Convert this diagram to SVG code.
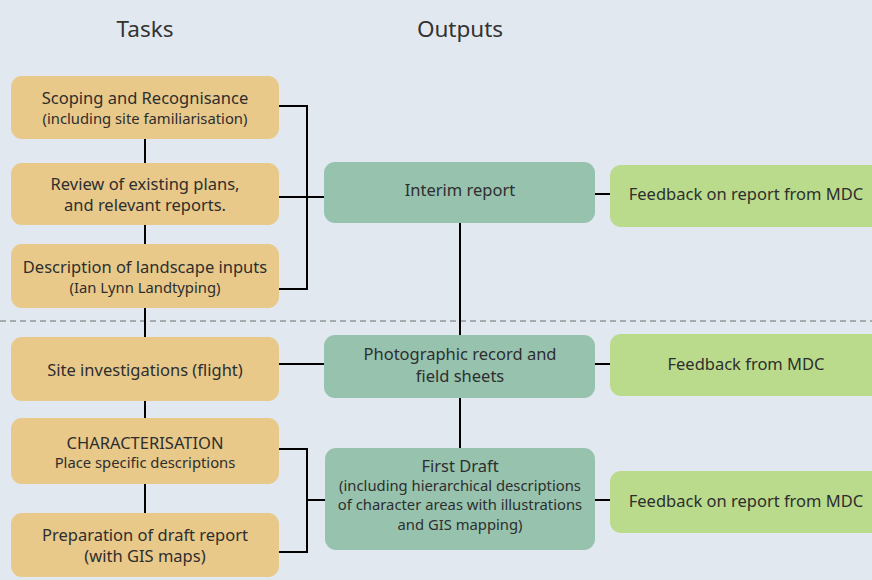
<svg xmlns="http://www.w3.org/2000/svg" width="872" height="580" viewBox="0 0 872 580">
<style>
text{font-family:"Noto Sans","Open Sans",sans-serif;fill:#2e2e2e;text-anchor:middle}
.m{font-size:16.5px}
.s{font-size:14.8px}
.d{font-size:14.8px}
.h{font-size:22.5px;fill:#333}
.task{fill:#e8c98a}
.out{fill:#97c3ae}
.fb{fill:#badb8c}
.c{stroke:#000;stroke-width:2;fill:none}
</style>
<rect width="872" height="580" fill="#e1e8ef"/>
<text class="h" x="145" y="37">Tasks</text>
<text class="h" x="460" y="37">Outputs</text>
<line x1="0" y1="321" x2="872" y2="321" stroke="#a8abae" stroke-width="2" stroke-dasharray="6,4"/>
<g id="connectors">
<path class="c" d="M145 139V163M145 225V244M145 308V337M145 401V418M145 484V513"/>
<path class="c" d="M279 106H307V289H279M279 197H325"/>
<path class="c" d="M460 223V335M460 398V448"/>
<path class="c" d="M279 364H325"/>
<path class="c" d="M279 449H307V552H279M307 500H325"/>
<path class="c" d="M595 194H610M595 364H610M595 500H610"/>
</g>
<g id="task1"><rect class="task" x="11" y="76" width="268" height="63" rx="11"/><text class="m" x="145" y="104">Scoping and Recognisance</text><text class="s" x="145" y="124">(including site familiarisation)</text></g>
<g id="task2"><rect class="task" x="11" y="163" width="268" height="62" rx="11"/><text class="m" x="145" y="190">Review of existing plans,</text><text class="m" x="145" y="211">and relevant reports.</text></g>
<g id="task3"><rect class="task" x="11" y="244" width="268" height="64" rx="11"/><text class="m" x="145" y="273">Description of landscape inputs</text><text class="s" x="145" y="293">(Ian Lynn Landtyping)</text></g>
<g id="task4"><rect class="task" x="11" y="337" width="268" height="64" rx="11"/><text class="m" x="145" y="376">Site investigations (flight)</text></g>
<g id="task5"><rect class="task" x="11" y="418" width="268" height="66" rx="11"/><text class="m" x="145" y="449">CHARACTERISATION</text><text class="s" x="145" y="468">Place specific descriptions</text></g>
<g id="task6"><rect class="task" x="11" y="513" width="268" height="64" rx="11"/><text class="m" x="145" y="541">Preparation of draft report</text><text class="m" x="145" y="562">(with GIS maps)</text></g>
<g id="out1"><rect class="out" x="324" y="162" width="271" height="61" rx="11"/><text class="m" x="460" y="196">Interim report</text></g>
<g id="out2"><rect class="out" x="324" y="335" width="271" height="63" rx="11"/><text class="m" x="460" y="360">Photographic record and</text><text class="m" x="460" y="382">field sheets</text></g>
<g id="out3"><rect class="out" x="325" y="448" width="270" height="102" rx="11"/><text class="m" x="460" y="472">First Draft</text><text class="d" x="460" y="491">(including hierarchical descriptions</text><text class="d" x="460" y="510">of character areas with illustrations</text><text class="d" x="460" y="530">and GIS mapping)</text></g>
<g id="fb1"><rect class="fb" x="610" y="165" width="280" height="62" rx="11"/><text class="m" x="746" y="200">Feedback on report from MDC</text></g>
<g id="fb2"><rect class="fb" x="610" y="334" width="280" height="62" rx="11"/><text class="m" x="746" y="370">Feedback from MDC</text></g>
<g id="fb3"><rect class="fb" x="610" y="471" width="280" height="62" rx="11"/><text class="m" x="746" y="507">Feedback on report from MDC</text></g>
</svg>
